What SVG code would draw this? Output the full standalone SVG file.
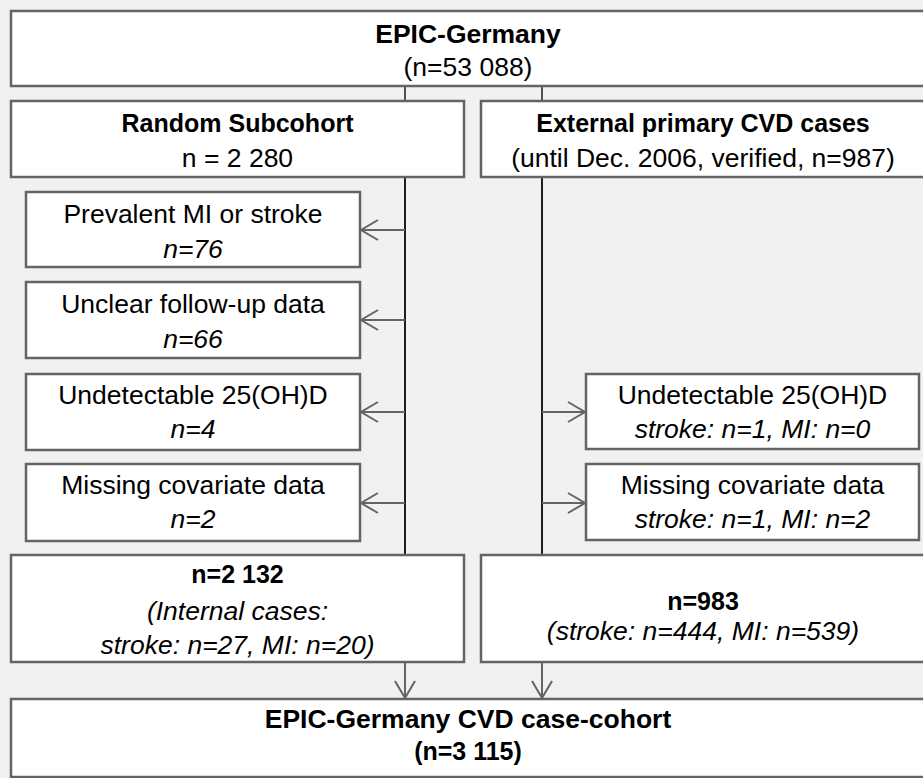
<svg xmlns="http://www.w3.org/2000/svg" width="923" height="778" viewBox="0 0 923 778">
<style>
.box{fill:#fff;stroke:#646464;stroke-width:2.5}
.t{font-family:"Liberation Sans",Arial,sans-serif;text-anchor:middle;fill:#000}
.b{font-weight:bold;font-size:25px}
.h{font-weight:bold;font-size:26.5px}
.r{font-size:26.5px}
.i{font-style:italic}
.trunk{stroke:#1e1e1e;stroke-width:2;fill:none}
.stub{stroke:#505050;stroke-width:2;fill:none}
.arr{stroke:#646464;stroke-width:2;fill:none;marker-end:url(#ah)}
</style>
<defs>
<marker id="ah" markerUnits="userSpaceOnUse" viewBox="-18 -11 20 22" refX="0" refY="0" markerWidth="20" markerHeight="22" orient="auto">
<path d="M-17,-10 L0,0 L-17,10" fill="none" stroke="#646464" stroke-width="2"/>
</marker>
</defs>
<rect x="0" y="0" width="923" height="778" fill="#f1f1f1"/>

<g id="connectors">
<line class="stub" x1="405" y1="87" x2="405" y2="101"/>
<line class="stub" x1="542" y1="87" x2="542" y2="101"/>
<line class="trunk" x1="405" y1="177" x2="405" y2="555"/>
<line class="trunk" x1="542" y1="177" x2="542" y2="555"/>
<line class="arr" x1="405" y1="230" x2="361" y2="230"/>
<line class="arr" x1="405" y1="320" x2="361" y2="320"/>
<line class="arr" x1="405" y1="412" x2="361" y2="412"/>
<line class="arr" x1="405" y1="503" x2="361" y2="503"/>
<line class="arr" x1="542" y1="412" x2="585" y2="412"/>
<line class="arr" x1="542" y1="503" x2="585" y2="503"/>
<line class="arr" x1="405" y1="662" x2="405" y2="698"/>
<line class="arr" x1="542" y1="662" x2="542" y2="698"/>
</g>

<g id="epic-germany">
<rect class="box" x="11" y="11" width="920" height="75"/>
<text class="t h" x="468" y="43">EPIC-Germany</text>
<text class="t r" x="468" y="76">(n=53 088)</text>
</g>

<g id="random-subcohort">
<rect class="box" x="11" y="101" width="453" height="76"/>
<text class="t b" x="237.5" y="132">Random Subcohort</text>
<text class="t r" x="237.5" y="167">n = 2 280</text>
</g>

<g id="external-cases">
<rect class="box" x="481" y="101" width="450" height="76"/>
<text class="t b" x="703" y="132">External primary CVD cases</text>
<text class="t r" x="703" y="167">(until Dec. 2006, verified, n=987)</text>
</g>

<g id="prevalent">
<rect class="box" x="26" y="192" width="334" height="75"/>
<text class="t r" x="193" y="223">Prevalent MI or stroke</text>
<text class="t r i" x="193" y="258">n=76</text>
</g>

<g id="unclear">
<rect class="box" x="26" y="282" width="334" height="76"/>
<text class="t r" x="193" y="313">Unclear follow-up data</text>
<text class="t r i" x="193" y="348">n=66</text>
</g>

<g id="undetectable-left">
<rect class="box" x="26" y="374" width="334" height="76"/>
<text class="t r" x="193" y="404">Undetectable 25(OH)D</text>
<text class="t r i" x="193" y="438">n=4</text>
</g>

<g id="missing-left">
<rect class="box" x="26" y="464" width="334" height="77"/>
<text class="t r" x="193" y="494">Missing covariate data</text>
<text class="t r i" x="193" y="528">n=2</text>
</g>

<g id="undetectable-right">
<rect class="box" x="586" y="374" width="333" height="75"/>
<text class="t r" x="752.5" y="404">Undetectable 25(OH)D</text>
<text class="t r i" x="752.5" y="438">stroke: n=1, MI: n=0</text>
</g>

<g id="missing-right">
<rect class="box" x="586" y="464" width="333" height="76"/>
<text class="t r" x="752.5" y="494">Missing covariate data</text>
<text class="t r i" x="752.5" y="528">stroke: n=1, MI: n=2</text>
</g>

<g id="subcohort-final">
<rect class="box" x="11" y="555" width="453" height="107"/>
<text class="t b" x="237.5" y="583">n=2 132</text>
<text class="t r i" x="237.5" y="620">(Internal cases:</text>
<text class="t r i" x="237.5" y="654">stroke: n=27, MI: n=20)</text>
</g>

<g id="external-final">
<rect class="box" x="481" y="555" width="450" height="107"/>
<text class="t b" x="703" y="610">n=983</text>
<text class="t r i" x="703" y="640">(stroke: n=444, MI: n=539)</text>
</g>

<g id="case-cohort">
<rect class="box" x="11" y="699" width="920" height="78"/>
<text class="t h" x="468" y="728">EPIC-Germany CVD case-cohort</text>
<text class="t b" x="468" y="760">(n=3 115)</text>
</g>
</svg>
